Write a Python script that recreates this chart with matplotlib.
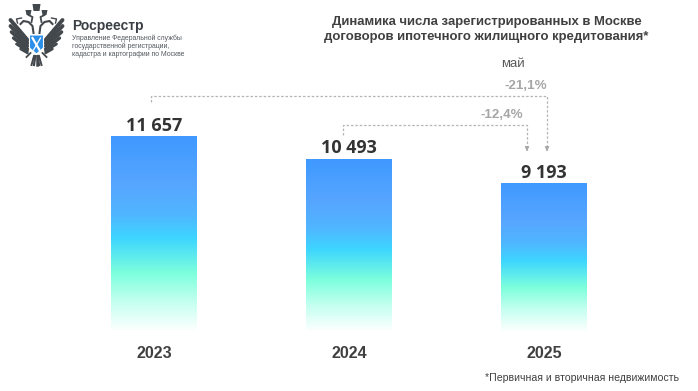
import matplotlib
matplotlib.use('Agg')
import matplotlib.pyplot as plt
import numpy as np
from matplotlib.colors import LinearSegmentedColormap
from matplotlib.patches import Polygon

years = ['2023', '2024', '2025']
values = [11657, 10493, 9193]
value_labels = ['11 657', '10 493', '9 193']
changes = ['-21,1%', '-12,4%']

W, H = 698, 391
BASE = 1434  # bars in the source do not start from zero

plt.rcParams['font.family'] = ['Liberation Sans', 'DejaVu Sans']
fig = plt.figure(figsize=(W / 100, H / 100), dpi=100)

# main axes: x centres at 154, 349, 544 px
ax = fig.add_axes([0, 0, 1, 1])
ax.set_xlim((0 - 154) / 195, (W - 154) / 195)
k = (11657 - 9193) / 47
ax.set_ylim(BASE - (H - 332) * k, BASE + 332 * k)
ax.axis('off')

cmap = LinearSegmentedColormap.from_list('bar', [
    (0.0, '#3f99ff'), (0.25, '#57a6ff'), (0.40, '#50b6ff'), (0.52, '#3dd5ff'),
    (0.70, '#7dffdc'), (0.85, '#c5fff0'), (1.0, '#ffffff')])
grad = np.linspace(0, 1, 256).reshape(-1, 1)

bars = ax.bar(range(3), [v - BASE for v in values], bottom=BASE, width=86 / 195, color='none')
xl, yl = ax.get_xlim(), ax.get_ylim()
for bar in bars:
    x0, y0 = bar.get_x(), bar.get_y()
    ax.imshow(grad, cmap=cmap, aspect='auto', zorder=2,
              extent=[x0, x0 + bar.get_width(), y0, y0 + bar.get_height()])
ax.set_xlim(xl)
ax.set_ylim(yl)

for i in range(3):
    ax.annotate(value_labels[i], (i, values[i]), xytext=(0, 1.6), textcoords='offset points',
                ha='center', va='bottom', fontsize=13, fontweight='bold', color='#333333',
                family='Open Sans')
    ax.text(i, BASE - 22 * k, years[i], ha='center', va='center', fontsize=11.5,
            fontweight='bold', color='#404040', family=['Liberation Sans Narrow', 'Liberation Sans'])

# overlay in pixel coordinates for connectors, header and logo
ov = fig.add_axes([0, 0, 1, 1], facecolor='none')
ov.set_xlim(0, W)
ov.set_ylim(H, 0)
ov.axis('off')

dash = dict(color='#b5b5b5', lw=0.9, ls=(0, (2, 1.5)))
ov.plot([151, 151, 547, 547], [102, 96, 96, 150], **dash)
ov.plot([343, 343, 527, 527], [135, 125, 125, 150], **dash)
for x in [527, 547]:
    ov.annotate('', (x, 154), (x, 147),
                arrowprops=dict(arrowstyle='-|>', color='#a8a8a8', lw=0.8, mutation_scale=6))
ov.text(525.5, 86, changes[0], ha='center', va='center', fontsize=9.6, fontweight='bold', color='#a6a6a6')
ov.text(502, 115, changes[1], ha='center', va='center', fontsize=9.6, fontweight='bold', color='#a6a6a6')
ov.text(513, 64, 'май', ha='center', va='center', fontsize=9.5, color='#595959')

ov.text(486.5, 29.5, 'Динамика числа зарегистрированных в Москве\nдоговоров ипотечного жилищного кредитования*',
        ha='center', va='center', fontsize=9.45, fontweight='bold', color='#404040', linespacing=1.25)
ov.text(582, 378, '*Первичная и вторичная недвижимость', ha='center', va='center',
        fontsize=7.6, color='#404040')

ov.text(72, 26, 'Росреестр', ha='left', va='center', fontsize=10, fontweight='bold', color='#3a3f45')
ov.text(72, 46.5, 'Управление Федеральной службы\nгосударственной регистрации,\nкадастра и картографии по Москве',
        ha='left', va='center', fontsize=4.95, color='#55595e', linespacing=1.2)

# emblem drawn with plain shapes: feathers, necks, crowns, tail, shield
dark = '#43484d'
cx = 36.5
for s in [-1, 1]:
    feathers = [((9, 40), (26, 20), 2.8), ((9, 43), (26, 26), 2.8), ((9, 46), (25, 32), 2.6),
                ((9, 49), (23, 38), 2.4), ((9, 51), (20, 44), 2.0), ((9, 53), (16, 49), 1.8)]
    for (a, b, lw) in feathers:
        ov.plot([cx + s * a[0], cx + s * b[0]], [a[1], b[1]], color=dark, lw=lw, solid_capstyle='round')
    # neck and head
    ov.plot([cx + s * 3, cx + s * 4, cx + s * 8, cx + s * 13, cx + s * 16],
            [33, 26, 22, 21, 24], color=dark, lw=1.5)
    ov.plot([cx + s * 15, cx + s * 20, cx + s * 19], [18, 19, 23], color=dark, lw=1.0)
    ov.plot([cx + s * 5, cx + s * 4, cx + s * 8], [22, 17, 15], color=dark, lw=1.3)
    ov.add_patch(Polygon([(cx + s * 5, 10), (cx + s * 11, 10), (cx + s * 10, 15), (cx + s * 6, 15)],
                         closed=True, fc=dark, ec='none'))
    # legs and claws
    ov.plot([cx + s * 6, cx + s * 10], [53, 57], color=dark, lw=1.3)
ov.add_patch(Polygon([(cx - 4, 4), (cx + 4, 4), (cx + 3, 11), (cx - 3, 11)], closed=True, fc=dark, ec='none'))
for dx, lw in [(-5, 1.4), (-2.5, 1.6), (0, 1.8), (2.5, 1.6), (5, 1.4)]:
    ov.plot([cx + dx * 0.5, cx + dx], [56, 65], color=dark, lw=lw)
ov.add_patch(Polygon([(cx - 7, 35), (cx + 7, 35), (cx + 7, 48), (cx, 54), (cx - 7, 48)],
                     closed=True, fc='#2b8fea', ec='white', lw=0.8, zorder=3))
ov.plot([cx - 4, cx + 3], [38, 50], color='white', lw=1.6, zorder=4)
ov.plot([cx + 4, cx - 3], [38, 50], color='white', lw=0.9, zorder=4)

fig.savefig('out.png', dpi=100)
